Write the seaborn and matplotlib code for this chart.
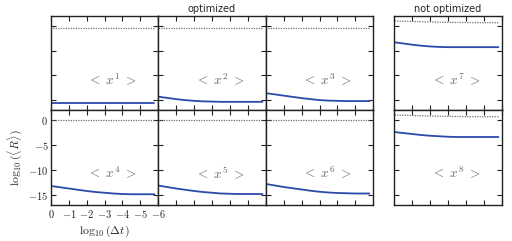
"""Convergence of <R> vs time step for optimized and non-optimized moments."""

import matplotlib
matplotlib.use("Agg")
import matplotlib.pyplot as plt
import seaborn as sns
from matplotlib.ticker import FuncFormatter

# log10(dt) sample points
log_dt = [0.0, -0.5, -1.0, -1.5, -2.0, -2.5, -3.0, -3.5, -4.0, -4.5, -5.0, -5.5, -5.8]

# log10(<R>) for each moment (solid blue)
moment_names = ["1", "2", "3", "7", "4", "5", "6", "8"]
r_x1 = [-15.55, -15.55, -15.55, -15.55, -15.55, -15.55, -15.55, -15.55, -15.55, -15.55, -15.55, -15.55, -15.55]
r_x2 = [-14.3, -14.55, -14.8, -15.0, -15.15, -15.25, -15.3, -15.35, -15.35, -15.35, -15.35, -15.35, -15.35]
r_x3 = [-13.6, -13.85, -14.1, -14.35, -14.6, -14.8, -15.0, -15.1, -15.15, -15.2, -15.2, -15.2, -15.2]
r_x7 = [-3.3, -3.55, -3.8, -4.0, -4.15, -4.25, -4.3, -4.3, -4.3, -4.3, -4.3, -4.3, -4.3]
r_x4 = [-13.2, -13.45, -13.7, -13.95, -14.2, -14.4, -14.55, -14.7, -14.8, -14.85, -14.85, -14.85, -14.85]
r_x5 = [-13.1, -13.4, -13.7, -13.95, -14.2, -14.4, -14.55, -14.7, -14.75, -14.8, -14.8, -14.8, -14.8]
r_x6 = [-12.8, -13.1, -13.4, -13.65, -13.9, -14.15, -14.35, -14.5, -14.6, -14.65, -14.7, -14.7, -14.7]
r_x8 = [-2.4, -2.6, -2.8, -3.0, -3.15, -3.25, -3.35, -3.4, -3.4, -3.4, -3.4, -3.4, -3.4]

# reference curves (dotted gray)
ref_opt_top = [-0.4] * 13
ref_opt_bottom = [-0.1] * 13
ref_notopt = [1.0, 0.95, 0.9, 0.85, 0.8, 0.75, 0.72, 0.7, 0.68, 0.66, 0.65, 0.65, 0.65]

solid_series = [r_x1, r_x2, r_x3, r_x7, r_x4, r_x5, r_x6, r_x8]
dotted_series = [ref_opt_top, ref_opt_top, ref_opt_top, ref_notopt,
                 ref_opt_bottom, ref_opt_bottom, ref_opt_bottom, ref_notopt]

y_ticks = [0, -5, -10, -15]
x_ticks = [0, -1, -2, -3, -4, -5, -6]

sns.set_style("ticks")
plt.rcParams["font.family"] = ["DejaVu Sans"]
plt.rcParams["mathtext.fontset"] = "cm"

BLUE = "#2b4ba8"
GRAY = "#707070"

fig = plt.figure(figsize=(5.12, 2.41), dpi=100)

W, H = 512, 241
col_x = [51, 158, 266, 394]
col_w = [107, 108, 107, 108]
row_y = [16, 110]
row_h = [94, 95]

mathfmt = FuncFormatter(lambda v, p: "$%d$" % v)

axes = []
for i in range(8):
    r, c = divmod(i, 4)
    rect = [col_x[c] / W, 1 - (row_y[r] + row_h[r]) / H, col_w[c] / W, row_h[r] / H]
    ax = fig.add_axes(rect)
    sns.lineplot(x=log_dt, y=dotted_series[i], ax=ax, color=GRAY, lw=0.9,
                 linestyle=(0, (1, 1)))
    sns.lineplot(x=log_dt, y=solid_series[i], ax=ax, color=BLUE, lw=1.3)
    ax.set_xlim(0, -6)
    ax.set_ylim(-17, 2)
    ax.set_xticks(x_ticks)
    ax.set_yticks(y_ticks)
    ax.tick_params(direction="in", length=3.5, width=0.8, top=True, right=True,
                   labelsize=7.5, pad=2, colors="#222222")
    for s in ax.spines.values():
        s.set_linewidth(1.0)
        s.set_color("#222222")
    ax.text(0.57, 0.32 if r == 0 else 0.34,
            r"$<\ x^{%s}\ >$" % moment_names[i],
            transform=ax.transAxes, ha="center", va="center",
            fontsize=9.5, color="#666666")
    if i == 4:
        ax.xaxis.set_major_formatter(mathfmt)
        ax.yaxis.set_major_formatter(mathfmt)
        ax.set_xlabel(r"$\log_{10}(\Delta t)$", fontsize=8.5, labelpad=3)
        ax.set_ylabel(r"$\log_{10}(\langle R\rangle)$", fontsize=8.5, labelpad=3)
    else:
        ax.set_xticklabels([])
        ax.set_yticklabels([])
        ax.set_xlabel("")
        ax.set_ylabel("")
    axes.append(ax)

axes[1].set_title("optimized", fontsize=7, pad=3)
axes[3].set_title("not optimized", fontsize=7, pad=3)

fig.savefig("out.png", dpi=100)
